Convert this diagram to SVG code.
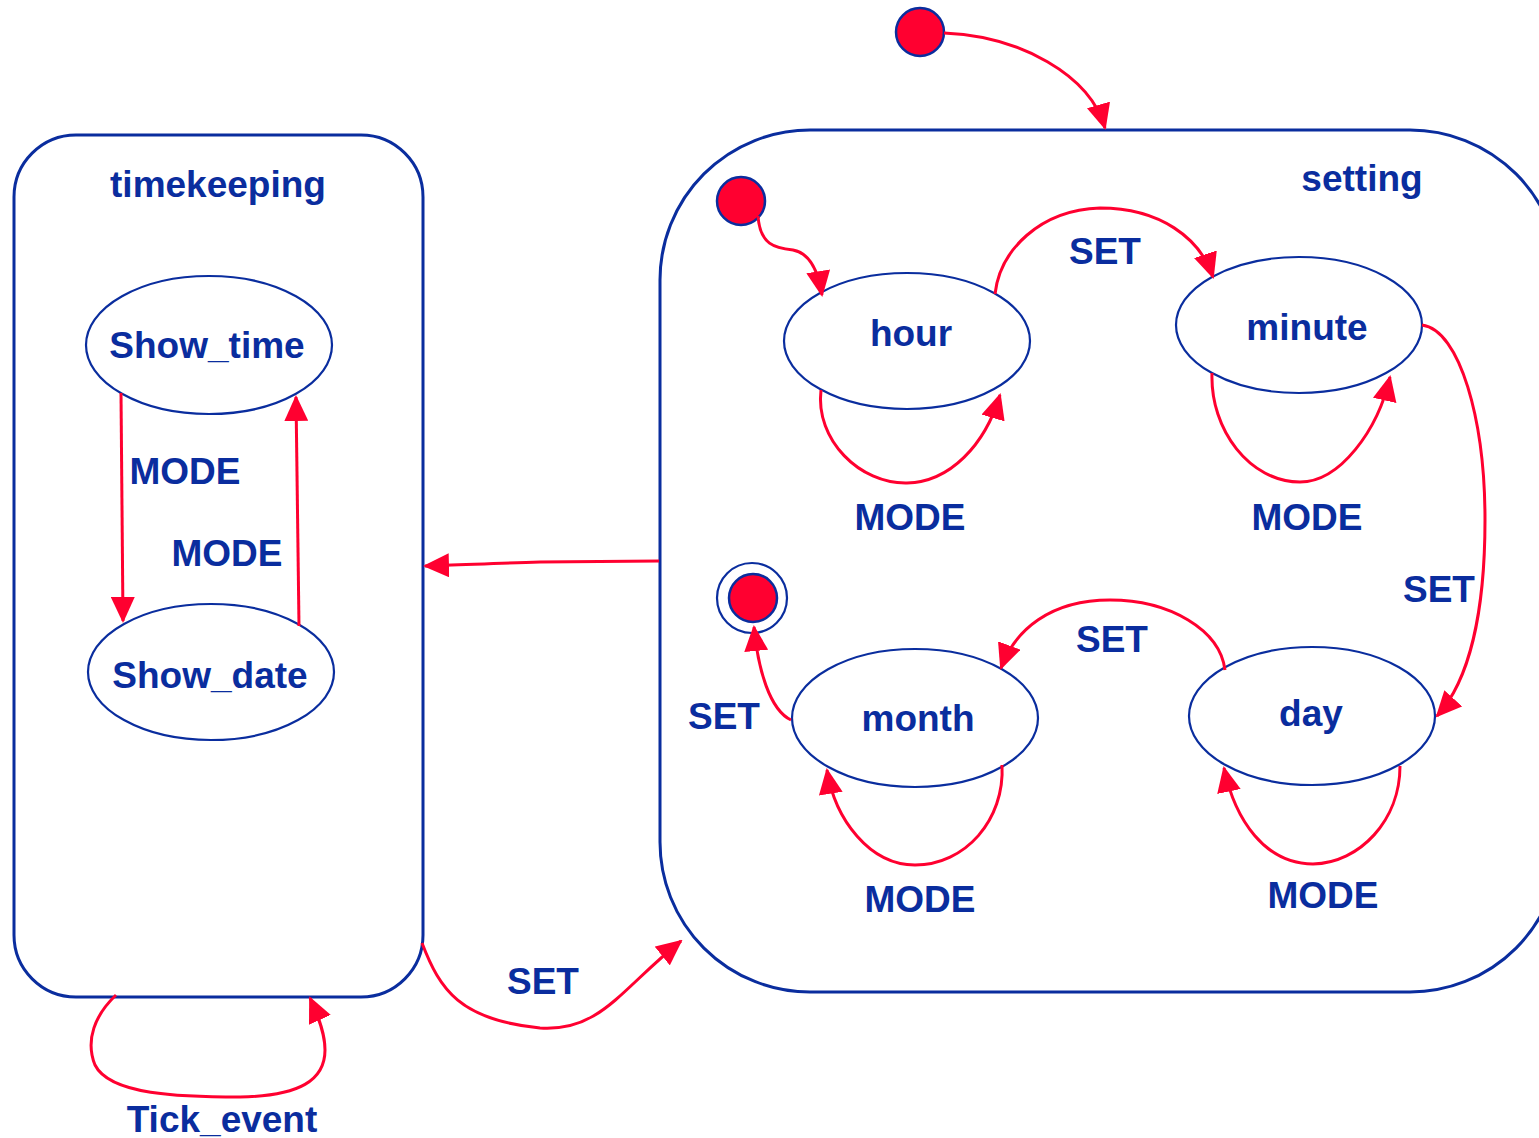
<svg xmlns="http://www.w3.org/2000/svg" width="1539" height="1138" viewBox="0 0 1539 1138">
<style>
.box{fill:none;stroke:#0a2d9e;stroke-width:3}
.st{fill:#fff;stroke:#0a2d9e;stroke-width:2.2}
.dot{fill:#ff0030;stroke:#0a2d9e;stroke-width:2.5}
.ring{fill:none;stroke:#0a2d9e;stroke-width:2.2}
.e{fill:none;stroke:#ff0030;stroke-width:3;marker-end:url(#ah)}
text{font-family:"Liberation Sans",Arial,sans-serif;font-weight:bold;font-size:37px;fill:#0a2d9e;text-anchor:middle}
</style>
<defs>
<marker id="ah" markerUnits="userSpaceOnUse" markerWidth="26" markerHeight="24" viewBox="0 0 26 24" refX="24" refY="12" orient="auto">
<path d="M0,0 L26,12 L0,24 Z" fill="#ff0030"/>
</marker>
</defs>
<g id="timekeeping">
<rect class="box" x="14" y="135" width="409" height="862" rx="62"/>
<text x="218" y="197">timekeeping</text>
</g>
<g id="setting">
<rect class="box" x="660" y="130" width="900" height="862" rx="150"/>
<text x="1362" y="191">setting</text>
</g>
<g id="Show_time"><ellipse class="st" cx="209" cy="345" rx="123" ry="69"/><text x="207" y="358">Show_time</text></g>
<g id="Show_date"><ellipse class="st" cx="211" cy="672" rx="123" ry="68"/><text x="210" y="688">Show_date</text></g>
<g id="hour"><ellipse class="st" cx="907" cy="341" rx="123" ry="68"/><text x="911" y="346">hour</text></g>
<g id="minute"><ellipse class="st" cx="1299" cy="325" rx="123" ry="68"/><text x="1307" y="340">minute</text></g>
<g id="month"><ellipse class="st" cx="915" cy="718" rx="123" ry="69"/><text x="918" y="731">month</text></g>
<g id="day"><ellipse class="st" cx="1312" cy="716" rx="123" ry="69"/><text x="1311" y="726">day</text></g>
<g id="init_top"><circle class="dot" cx="920" cy="32" r="24"/></g>
<g id="init_inner"><circle class="dot" cx="741" cy="201" r="24"/></g>
<g id="final"><circle class="ring" cx="752" cy="598" r="35"/><circle class="dot" cx="753" cy="598" r="24"/></g>
<g id="connectors">
<path class="e" d="M944,33 C1020,36 1090,75 1105,128"/>
<path class="e" d="M758,216 C760,245 775,248 793,250 C810,253 818,270 822,295"/>
<path class="e" d="M995,294 C1000,250 1040,210 1100,208 C1160,208 1200,238 1213,277"/>
<path class="e" d="M821,390 C815,440 860,484 907,483 C950,482 985,445 1000,395"/>
<path class="e" d="M1212,373 C1210,430 1250,482 1300,482 C1340,482 1378,430 1390,377"/>
<path class="e" d="M1422,325 C1460,330 1485,420 1485,520 C1485,610 1470,680 1437,716"/>
<path class="e" d="M1225,670 C1220,630 1170,600 1110,600 C1050,600 1015,630 1001,668"/>
<path class="e" d="M1400,766 C1400,820 1360,863 1313,864 C1265,864 1235,820 1224,768"/>
<path class="e" d="M1002,765 C1005,820 965,865 915,865 C870,865 835,820 827,770"/>
<path class="e" d="M791,720 C770,710 758,670 754,627"/>
<path class="e" d="M659,561 L540,562 C500,563 460,565 425,566"/>
<path class="e" d="M422,943 C440,990 460,1020 540,1028 C600,1032 620,990 681,941"/>
<path class="e" d="M116,995 C95,1015 85,1040 95,1065 C110,1095 180,1097 240,1097 C300,1096 325,1080 325,1050 C325,1035 320,1020 310,998"/>
<path class="e" d="M121,393 L123,621"/>
<path class="e" d="M299,626 L296,397"/>
</g>
<g id="labels">
<text x="1105" y="264">SET</text>
<text x="910" y="530">MODE</text>
<text x="1307" y="530">MODE</text>
<text x="1439" y="602">SET</text>
<text x="1112" y="652">SET</text>
<text x="724" y="729">SET</text>
<text x="920" y="912">MODE</text>
<text x="1323" y="908">MODE</text>
<text x="543" y="994">SET</text>
<text x="222" y="1132">Tick_event</text>
<text x="185" y="484">MODE</text>
<text x="227" y="566">MODE</text>
</g>
</svg>
